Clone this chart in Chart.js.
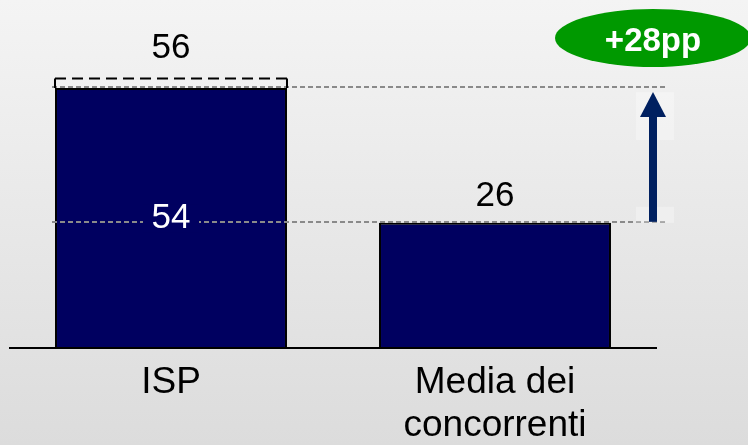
<!DOCTYPE html>
<html>
<head>
<meta charset="utf-8">
<script src="https://cdn.jsdelivr.net/npm/chart.js@4"></script>
<style>
  body { margin: 0; }
  #wrap {
    width: 748px;
    height: 445px;
    position: relative;
    background: linear-gradient(#f4f4f4, #dcdcdc);
  }
</style>
</head>
<body>
<div id="wrap"><canvas id="chart"></canvas></div>
<script>
const categories = [['ISP'], ['Media dei', 'concorrenti']];
const values = [54, 26];
const targetValues = [56, null];
const deltaLabel = '+28pp';

const barColor = '#000060';
const arrowColor = '#002060';

// linee, etichette e freccia disegnate sopra le barre
const overlay = {
  id: 'overlay',
  afterDatasetsDraw(chart) {
    const { ctx, chartArea, scales } = chart;
    const y = scales.y;
    const bars = chart.getDatasetMeta(0).data;
    const left0 = bars[0].x - bars[0].width / 2;
    const right = chartArea.right + 9;

    ctx.save();

    // linee tratteggiate grigie ai livelli delle barre
    ctx.strokeStyle = '#8a8a8a';
    ctx.lineWidth = 2;
    ctx.setLineDash([5, 3]);
    values.forEach((v) => {
      const py = Math.round(y.getPixelForValue(v)) - 1;
      ctx.beginPath();
      ctx.moveTo(left0 - 3, py);
      ctx.lineTo(right, py);
      ctx.stroke();
    });

    // box tratteggiato per il target
    targetValues.forEach((t, i) => {
      if (t === null) return;
      const b = bars[i];
      const x0 = b.x - b.width / 2;
      const x1 = b.x + b.width / 2;
      const yt = y.getPixelForValue(t);
      const yb = y.getPixelForValue(values[i]);
      ctx.strokeStyle = '#000';
      ctx.lineWidth = 2;
      ctx.setLineDash([]);
      ctx.beginPath();
      ctx.moveTo(x0, yb);
      ctx.lineTo(x0, yt);
      ctx.moveTo(x1, yb);
      ctx.lineTo(x1, yt);
      ctx.stroke();
      ctx.setLineDash([11, 6]);
      ctx.beginPath();
      ctx.moveTo(x0, yt);
      ctx.lineTo(x1, yt);
      ctx.stroke();
      ctx.setLineDash([]);
      ctx.fillStyle = '#000';
      ctx.font = '35px "Liberation Sans", Arial, sans-serif';
      ctx.textAlign = 'center';
      ctx.textBaseline = 'middle';
      ctx.fillText(String(t), b.x, yt - 30);
    });

    // linea di base
    ctx.setLineDash([]);
    ctx.strokeStyle = '#000';
    ctx.lineWidth = 2;
    ctx.beginPath();
    ctx.moveTo(chartArea.left, chartArea.bottom);
    ctx.lineTo(chartArea.right, chartArea.bottom);
    ctx.stroke();

    // etichette dei valori
    ctx.font = '35px "Liberation Sans", Arial, sans-serif';
    ctx.textAlign = 'center';
    ctx.textBaseline = 'middle';
    bars.forEach((b, i) => {
      if (targetValues[i] !== null) {
        const cy = (b.y + b.base) / 2;
        ctx.fillStyle = barColor;
        ctx.fillRect(b.x - 28, cy - 14, 56, 28);
        ctx.fillStyle = '#fff';
        ctx.fillText(String(values[i]), b.x, cy);
      } else {
        ctx.fillStyle = '#000';
        ctx.fillText(String(values[i]), b.x, b.y - 26);
      }
    });

    // freccia tra i due livelli
    const ax = chartArea.right - 4;
    const yHigh = y.getPixelForValue(Math.max(...values)) + 4;
    const yLow = y.getPixelForValue(Math.min(...values)) - 1;
    ctx.fillStyle = 'rgba(255,255,255,0.3)';
    ctx.fillRect(ax - 17, yHigh, 38, 48);
    ctx.fillRect(ax - 17, yLow - 15, 38, 16);
    ctx.fillStyle = arrowColor;
    ctx.fillRect(ax - 4, yHigh + 22, 8, yLow - yHigh - 22);
    ctx.beginPath();
    ctx.moveTo(ax, yHigh);
    ctx.lineTo(ax - 13, yHigh + 25);
    ctx.lineTo(ax + 13, yHigh + 25);
    ctx.closePath();
    ctx.fill();

    // ellisse verde con la differenza
    ctx.fillStyle = '#009900';
    ctx.beginPath();
    ctx.ellipse(ax, 38, 98, 29, 0, 0, Math.PI * 2);
    ctx.fill();
    ctx.fillStyle = '#fff';
    ctx.font = 'bold 33px "Liberation Sans", Arial, sans-serif';
    ctx.fillText(deltaLabel, ax, 42);

    ctx.restore();
  }
};

const chartDOM = document.querySelector('#chart');
const chart = new Chart(chartDOM, {
  type: 'bar',
  data: {
    labels: categories,
    datasets: [{
      data: values,
      backgroundColor: barColor,
      borderColor: '#000',
      borderWidth: 2,
      categoryPercentage: 1,
      barPercentage: 0.716,
    }],
  },
  options: {
    responsive: true,
    maintainAspectRatio: false,
    animation: false,
    layout: { padding: { left: 9, right: 91, top: 11, bottom: 0 } },
    plugins: {
      legend: { display: false },
      tooltip: { enabled: false },
    },
    scales: {
      y: { display: false, min: 0, max: 70 },
      x: {
        grid: { display: false, drawTicks: false },
        border: { display: false },
        ticks: {
          color: '#000',
          padding: 13,
          font: { family: '"Liberation Sans", Arial, sans-serif', size: 37, lineHeight: 1.17 },
          maxRotation: 0,
        },
        afterFit: (scale) => { scale.height = 97; },
      },
    },
  },
  plugins: [overlay],
});
</script>
</body>
</html>
